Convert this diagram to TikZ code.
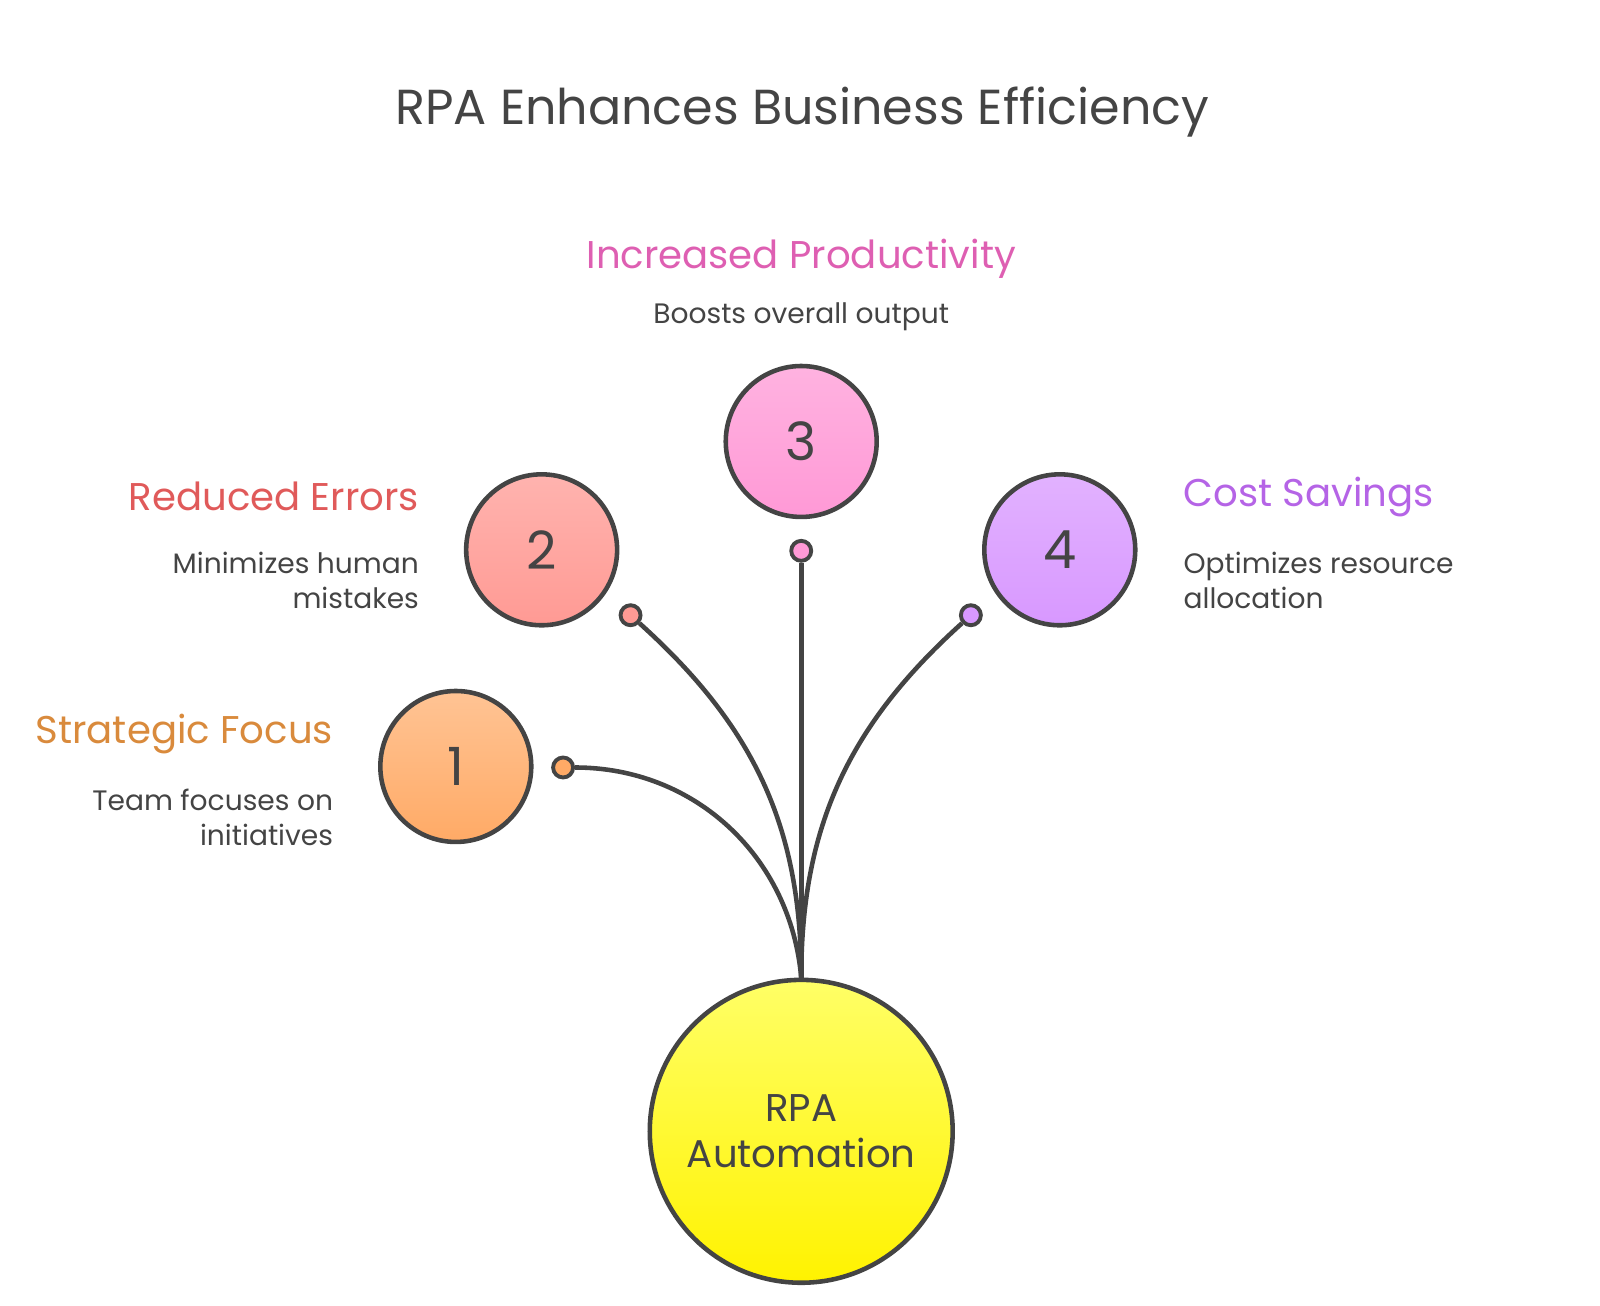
\documentclass[tikz,border=0pt]{standalone}
\usepackage{fontspec}
\setmainfont{Poppins}
\usetikzlibrary{positioning}
\definecolor{ink}{HTML}{444444}
\definecolor{cOrange}{HTML}{FFAA66}
\definecolor{cRed}{HTML}{FF9A94}
\definecolor{cPink}{HTML}{FF99D6}
\definecolor{cPurple}{HTML}{D898FF}
\definecolor{tOrange}{HTML}{D98A3C}
\definecolor{tRed}{HTML}{E05A5A}
\definecolor{tPink}{HTML}{DE5FB2}
\definecolor{tPurple}{HTML}{B564E6}
\tikzset{
  stage/.style={circle,draw=ink,line width=1.3pt,minimum size=1.51cm,inner sep=0pt,
    font=\fontsize{15}{15}\selectfont,text=ink},
  dot/.style={circle,draw=ink,line width=1.1pt,minimum size=0.2cm,inner sep=0pt},
  head/.style={font=\fontsize{11}{11}\selectfont},
  desc/.style={font=\fontsize{8}{10}\selectfont,text=ink},
  link/.style={draw=ink,line width=1.3pt}
}
\begin{document}
\begin{tikzpicture}[x=0.01022cm,y=-0.01022cm]
\useasboundingbox (0,0) rectangle (1565.6,1277.9);
\node[font=\fontsize{14}{14}\selectfont,text=ink] (title) at (785,110) {RPA Enhances Business Efficiency};
%%%% main circle
\node[circle,draw=ink,line width=1.3pt,minimum size=3.03cm,inner sep=0pt,
  top color=yellow!60!white,bottom color=yellow!90!orange,align=center,
  font=\fontsize{11}{13}\selectfont,text=ink] (rpa) at (784,1107) {RPA\\Automation};
%%%% stages
\node[stage,top color=cOrange!70!white,bottom color=cOrange] (s1) at (446,750) {1};
\node[stage,top color=cRed!75!white,bottom color=cRed] (s2) at (530,538) {2};
\node[stage,top color=cPink!75!white,bottom color=cPink] (s3) at (784,432) {3};
\node[stage,top color=cPurple!75!white,bottom color=cPurple] (s4) at (1037,538) {4};
%%%% dots
\node[dot,fill=cOrange] (d1) at (551,751) {};
\node[dot,fill=cRed] (d2) at (617,602) {};
\node[dot,fill=cPink] (d3) at (784,539) {};
\node[dot,fill=cPurple] (d4) at (950,602) {};
%%%% links
\draw[link] (rpa.north) to[out=95,in=0] (d1);
\draw[link] (rpa.north) to[out=90,in=-42] (d2);
\draw[link] (rpa.north) -- (d3);
\draw[link] (rpa.north) to[out=90,in=-138] (d4);
%%%% labels
\node[head,text=tOrange,anchor=east] (h1) at (338,718) {Strategic Focus};
\node[desc,anchor=north east,align=right] (t1) at (338,760) {Team focuses on\\initiatives};
\node[head,text=tRed,anchor=east] (h2) at (422,486) {Reduced Errors};
\node[desc,anchor=north east,align=right] (t2) at (422,528) {Minimizes human\\mistakes};
\node[head,text=tPink] (h3) at (784,253) {Increased Productivity};
\node[desc] (t3) at (784,310) {Boosts overall output};
\node[head,text=tPurple,anchor=west] (h4) at (1146,486) {Cost Savings};
\node[desc,anchor=north west,align=left] (t4) at (1146,528) {Optimizes resource\\allocation};
\end{tikzpicture}
\end{document}
